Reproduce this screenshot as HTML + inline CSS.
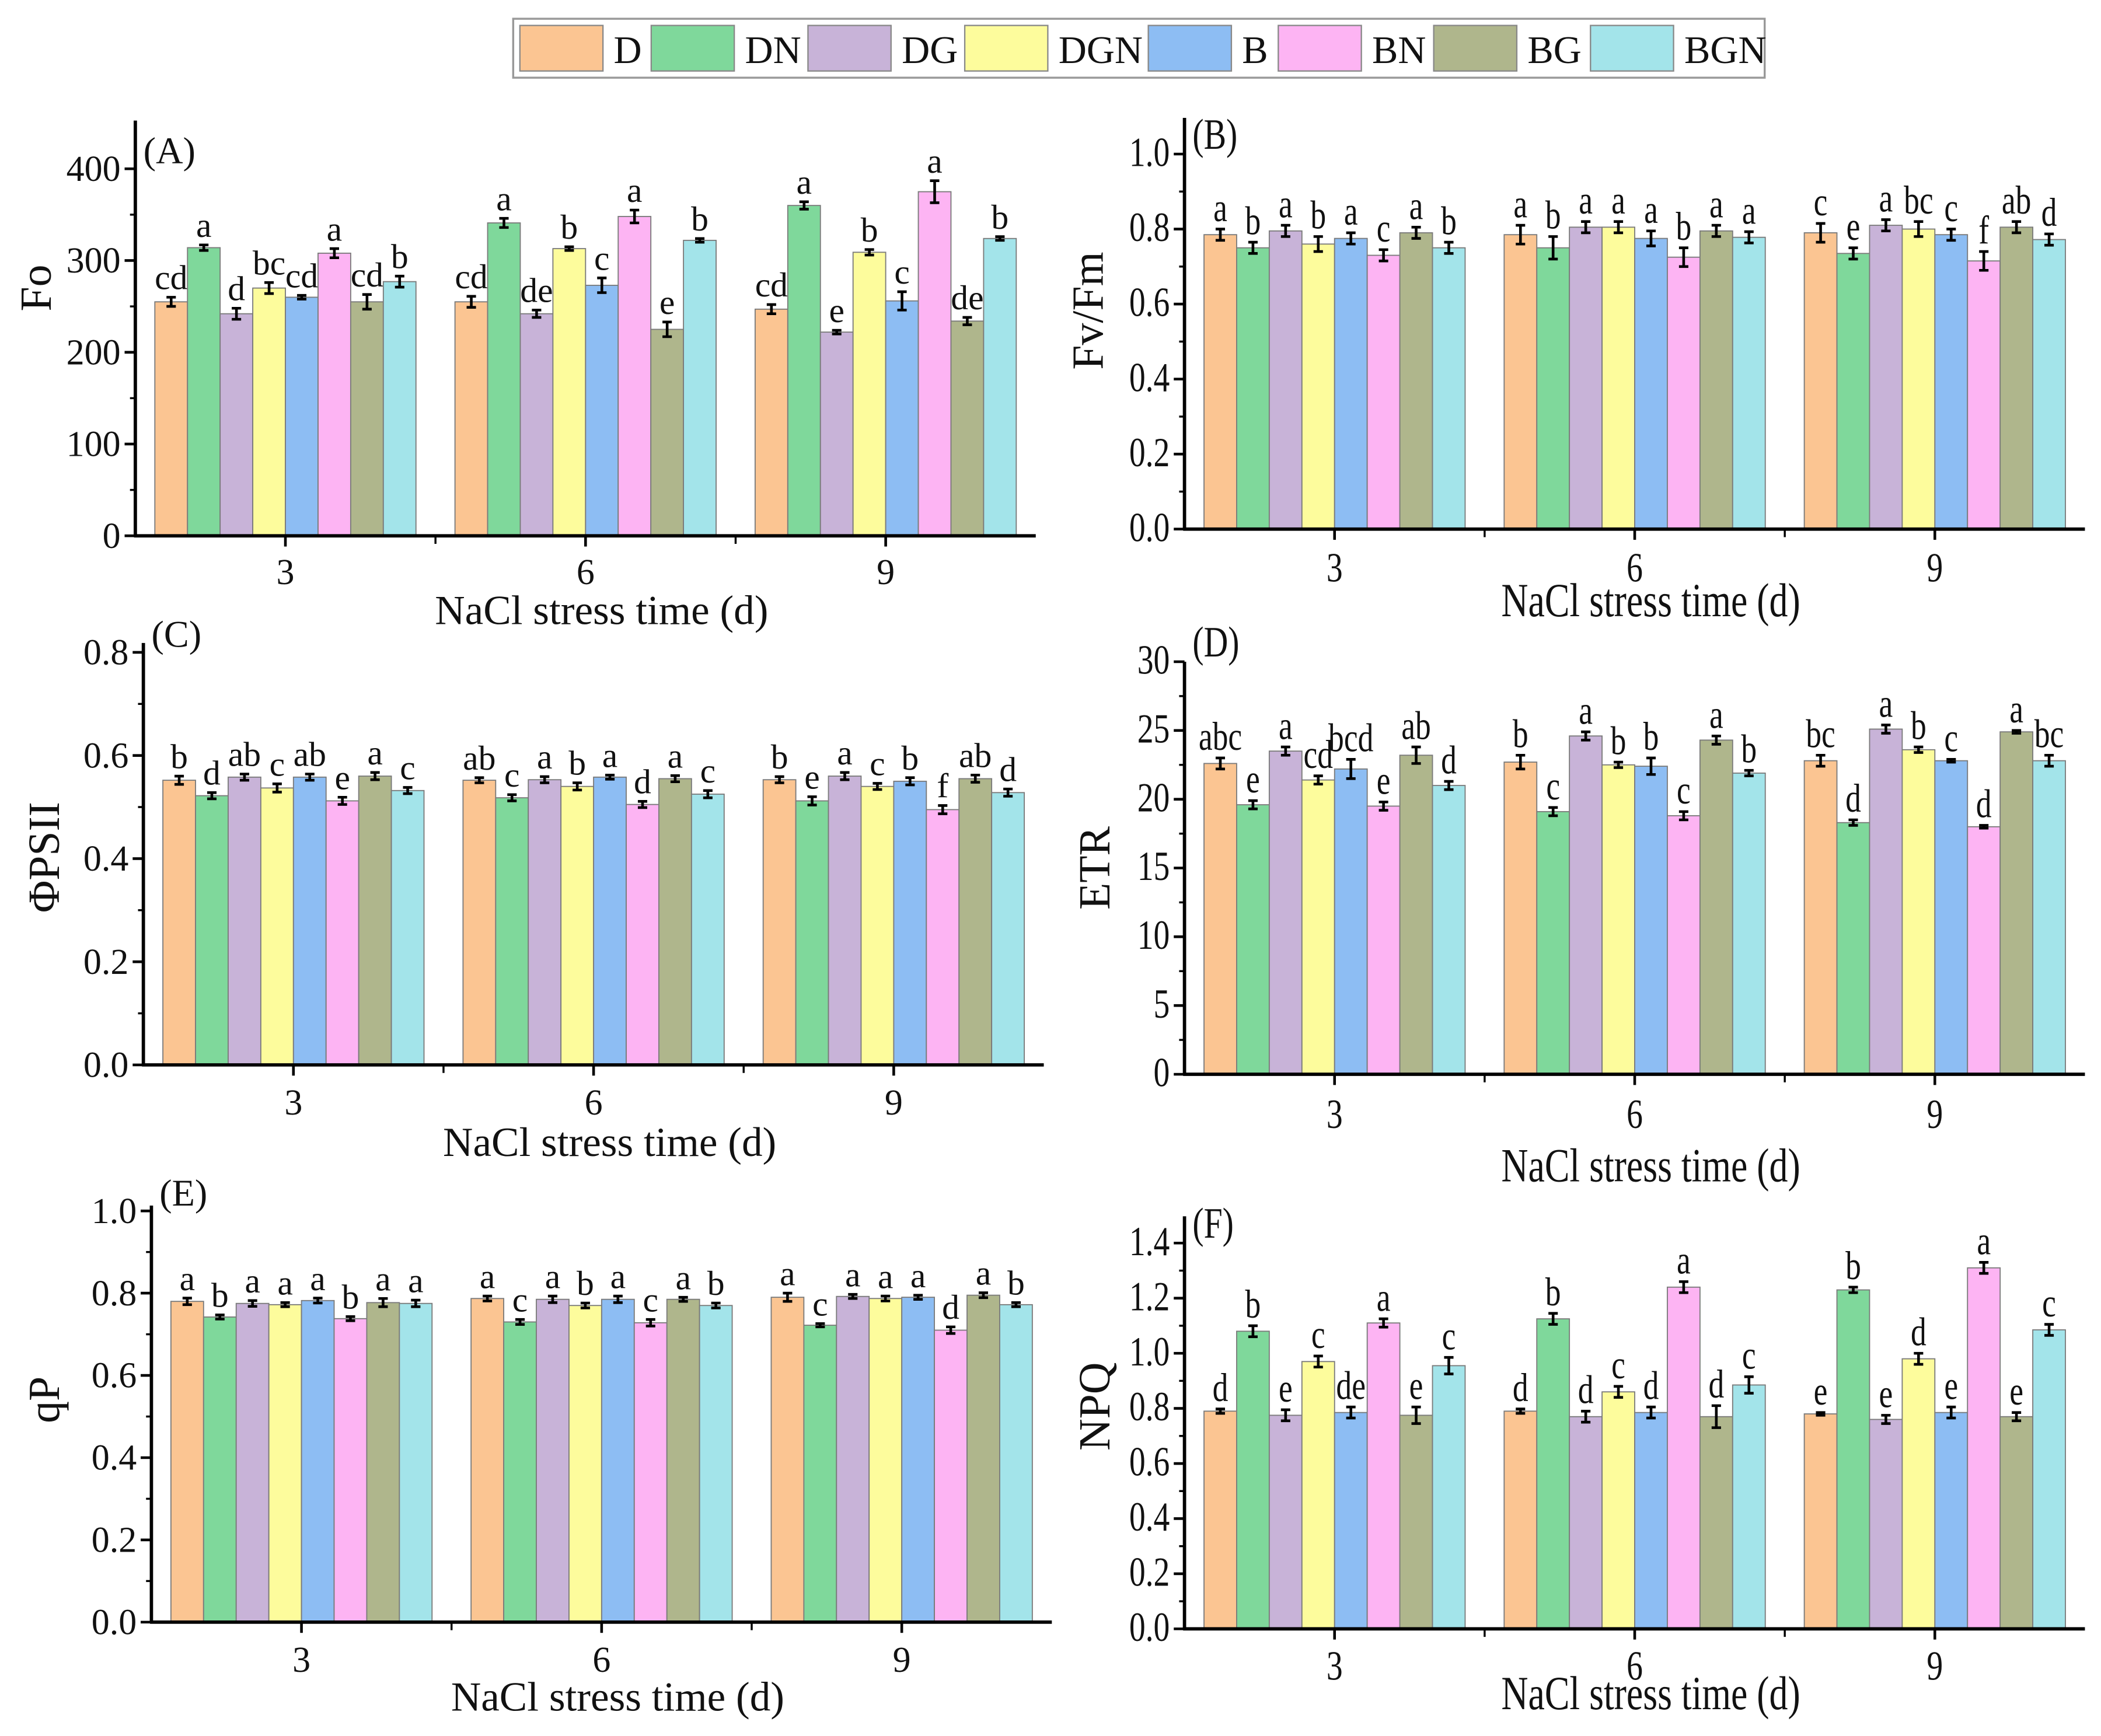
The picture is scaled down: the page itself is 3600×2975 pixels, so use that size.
<!DOCTYPE html>
<html><head><meta charset="utf-8">
<style>html,body{margin:0;padding:0;background:#fff}svg{display:block}svg text{font-family:"Liberation Serif","DejaVu Serif",serif}</style>
</head><body>
<svg id="fig" width="3600" height="2975" viewBox="0 0 1568 1296" preserveAspectRatio="none" xmlns="http://www.w3.org/2000/svg">
<g id="legend"></g>
<g id="panels"></g>
</svg>
<script>
const series = ["D","DN","DG","DGN","B","BN","BG","BGN"];
const colors = ["#fbc592","#7fd89b","#c8b3d8","#fdfc9c","#8dbdf3","#fdb4f3","#afb68c","#a3e4ea"];
const groups = ["3","6","9"];

const valuesA = [[255,314,242,270,260,308,255,277],[255,341,242,313,273,348,225,322],[247,360,222,309,256,375,234,324]];
const errA = [[5,3,6,6,2,5,8,6],[6,5,4,2,8,7,8,2],[5,4,2,3,10,12,4,2]];
const lettersA = [["cd","a","d","bc","cd","a","cd","b"],["cd","a","de","b","c","a","e","b"],["cd","a","e","b","c","a","de","b"]];
const ticksA = [0,100,200,300,400];

const valuesB = [[.785,.75,.795,.76,.775,.73,.79,.75],[.785,.75,.805,.805,.775,.725,.795,.778],[.79,.735,.81,.80,.785,.715,.805,.772]];
const errB = [[.015,.015,.015,.02,.015,.015,.015,.015],[.025,.03,.015,.015,.02,.025,.015,.015],[.025,.015,.015,.02,.015,.025,.015,.015]];
const lettersB = [["a","b","a","b","a","c","a","b"],["a","b","a","a","a","b","a","a"],["c","e","a","bc","c","f","ab","d"]];
const ticksB = [0,0.2,0.4,0.6,0.8,1.0];

const valuesC = [[.552,.522,.558,.537,.558,.512,.56,.532],[.552,.518,.553,.54,.558,.505,.555,.525],[.553,.512,.56,.54,.55,.495,.555,.528]];
const errC = [[.008,.006,.006,.008,.006,.007,.007,.006],[.005,.006,.006,.007,.004,.006,.006,.007],[.006,.008,.007,.006,.007,.008,.007,.007]];
const lettersC = [["b","d","ab","c","ab","e","a","c"],["ab","c","a","b","a","d","a","c"],["b","e","a","c","b","f","ab","d"]];
const ticksC = [0,0.2,0.4,0.6,0.8];

const valuesD = [[22.6,19.6,23.5,21.4,22.2,19.5,23.2,21.0],[22.7,19.1,24.6,22.5,22.4,18.8,24.3,21.9],[22.8,18.3,25.1,23.6,22.8,18.0,24.9,22.8]];
const errD = [[.4,.3,.3,.3,.7,.3,.6,.3],[.5,.3,.3,.2,.6,.3,.3,.2],[.4,.2,.3,.2,.1,.1,.1,.4]];
const lettersD = [["abc","e","a","cd","bcd","e","ab","d"],["b","c","a","b","b","c","a","b"],["bc","d","a","b","c","d","a","bc"]];
const ticksD = [0,5,10,15,20,25,30];

const valuesE = [[.78,.742,.775,.772,.782,.738,.777,.775],[.787,.73,.785,.77,.785,.728,.785,.77],[.79,.722,.792,.787,.79,.71,.795,.772]];
const errE = [[.008,.005,.007,.005,.006,.005,.01,.008],[.006,.006,.008,.006,.008,.008,.005,.006],[.01,.004,.005,.006,.005,.008,.006,.005]];
const lettersE = [["a","b","a","a","a","b","a","a"],["a","c","a","b","a","c","a","b"],["a","c","a","a","a","d","a","b"]];
const ticksE = [0,0.2,0.4,0.6,0.8,1.0];

const valuesF = [[.79,1.08,.775,.97,.785,1.11,.775,.955],[.79,1.125,.77,.86,.785,1.24,.77,.885],[.78,1.23,.76,.98,.785,1.31,.77,1.085]];
const errF = [[.008,.02,.02,.02,.02,.015,.03,.03],[.008,.02,.02,.02,.02,.02,.04,.03],[.005,.01,.015,.02,.02,.02,.015,.02]];
const lettersF = [["d","b","e","c","de","a","e","c"],["d","b","d","c","d","a","d","c"],["e","b","e","d","e","a","e","c"]];
const ticksF = [0,0.2,0.4,0.6,0.8,1.0,1.2,1.4];

const NS = "http://www.w3.org/2000/svg";
function mk(parent, tag, attrs){const e=document.createElementNS(NS,tag);for(const k in attrs)e.setAttribute(k,attrs[k]);parent.appendChild(e);return e;}
function txt(parent,x,y,s,size,anchor,sx,rot){
  const g=mk(parent,"g",{transform:`translate(${x},${y})`+(rot?` rotate(${rot})`:"")+` scale(${sx},1)`});
  const t=mk(g,"text",{x:0,y:0,"font-size":size,"text-anchor":anchor,fill:"#111"});
  t.textContent=s;return t;
}

// legend
const lg=document.getElementById("legend");
mk(lg,"rect",{x:383,y:14,width:934,height:44,fill:"#fff",stroke:"#999","stroke-width":1.5});
const legX=[388,486,603,720,857,954,1070,1187];
series.forEach((s,i)=>{
  const g=mk(lg,"g",{});
  
  
  mk(g,"rect",{x:legX[i],y:19,width:62,height:34,fill:colors[i],stroke:"#888","stroke-width":1});
  const t=mk(g,"text",{x:legX[i]+70,y:47,"font-size":29,fill:"#111"});t.textContent=s;
});

const panels=[
 {id:"a",label:"(A)",yl:"Fo",vals:valuesA,errs:errA,lets:lettersA,ticks:ticksA,fmt:v=>String(v),x0:101,x1:773,y0:400,ymax:400,ytop:126,axTop:90,sx:1,fs:1,ylx:38,yly:215,xlY:466,tkY:436},
 {id:"b",label:"(B)",yl:"Fv/Fm",vals:valuesB,errs:errB,lets:lettersB,ticks:ticksB,fmt:v=>v.toFixed(1),x0:884,x1:1556,y0:395,ymax:1.0,ytop:115,axTop:88,sx:0.78,fs:1.15,ylx:823,yly:232,xlY:460,tkY:434},
 {id:"c",label:"(C)",yl:"ΦPSII",vals:valuesC,errs:errC,lets:lettersC,ticks:ticksC,fmt:v=>v.toFixed(1),x0:107,x1:779,y0:795,ymax:0.8,ytop:487,axTop:480,sx:1,fs:1,ylx:44,yly:640,xlY:863,tkY:832},
 {id:"d",label:"(D)",yl:"ETR",vals:valuesD,errs:errD,lets:lettersD,ticks:ticksD,fmt:v=>String(v),x0:884,x1:1556,y0:802,ymax:30,ytop:494,axTop:494,sx:0.78,fs:1.15,ylx:828,yly:648,xlY:882,tkY:842},
 {id:"e",label:"(E)",yl:"qP",vals:valuesE,errs:errE,lets:lettersE,ticks:ticksE,fmt:v=>v.toFixed(1),x0:113,x1:785,y0:1211,ymax:1.0,ytop:904,axTop:900,sx:1,fs:1,ylx:44,yly:1045,xlY:1277,tkY:1248},
 {id:"f",label:"(F)",yl:"NPQ",vals:valuesF,errs:errF,lets:lettersF,ticks:ticksF,fmt:v=>v.toFixed(1),x0:884,x1:1556,y0:1216,ymax:1.4,ytop:928,axTop:908,sx:0.78,fs:1.15,ylx:828,yly:1050,xlY:1276,tkY:1254}
];

const root=document.getElementById("panels");
panels.forEach(p=>{
  const g=mk(root,"g",{});
  
  
  const W=p.x1-p.x0, gw=W/3, barW=gw*0.87/8;
  const yS=v=>p.y0-(v/p.ymax)*(p.y0-p.ytop);
  const gx=i=>p.x0+gw*(i+0.5);
  p.vals.forEach((row,gi)=>{
    row.forEach((v,si)=>{
      const bx=gx(gi)-barW*4+si*barW;
      const r=mk(g,"rect",{x:bx,y:yS(v),width:barW,height:p.y0-yS(v),fill:colors[si],stroke:"#7a7a7a","stroke-width":0.8});
      
      
      const cx=bx+barW/2,e=p.errs[gi][si],yt=yS(v+e),yb=yS(v-e);
      mk(g,"line",{x1:cx,x2:cx,y1:yt,y2:yb,stroke:"#000","stroke-width":2});
      mk(g,"line",{x1:cx-3.5,x2:cx+3.5,y1:yt,y2:yt,stroke:"#000","stroke-width":2});
      mk(g,"line",{x1:cx-3.5,x2:cx+3.5,y1:yb,y2:yb,stroke:"#000","stroke-width":2});
      const lt=txt(g,cx,yt-6,p.lets[gi][si],26*p.fs,"middle",p.sx);
      
      
    });
  });
  mk(g,"line",{x1:p.x0,x2:p.x0,y1:p.axTop,y2:p.y0+1,stroke:"#000","stroke-width":2.5});
  mk(g,"line",{x1:p.x0-1,x2:p.x1,y1:p.y0,y2:p.y0,stroke:"#000","stroke-width":2.5});
  const step=(p.ytop-p.y0)/(p.ticks.length-1);
  p.ticks.forEach((t,i)=>{
    const y=yS(t);
    mk(g,"line",{x1:p.x0-8,x2:p.x0,y1:y,y2:y,stroke:"#000","stroke-width":2});
    if(i<p.ticks.length-1){const ym=y+step/2;mk(g,"line",{x1:p.x0-4,x2:p.x0,y1:ym,y2:ym,stroke:"#000","stroke-width":1.5});}
    const tl=txt(g,p.x0-11,y+9,p.fmt(t),27*p.fs,"end",p.sx);
    
    
  });
  groups.forEach((s,i)=>{
    mk(g,"line",{x1:gx(i),x2:gx(i),y1:p.y0,y2:p.y0+8,stroke:"#000","stroke-width":2});
    if(i>0) mk(g,"line",{x1:p.x0+gw*i,x2:p.x0+gw*i,y1:p.y0,y2:p.y0+6,stroke:"#000","stroke-width":1.5});
    const xl=txt(g,gx(i),p.tkY,s,27*p.fs,"middle",p.sx);
    
    
  });
  const xt=txt(g,(p.x0+p.x1)/2+12,p.xlY,"NaCl stress time (d)",31*p.fs,"middle",p.sx);
  
  
  const yt=txt(g,p.ylx,p.yly,p.yl,33,"middle",1,-90);
  
  
  const pl=txt(g,p.x0+6,p.ytop-4,p.label,28*p.fs,"start",p.sx);
  
  
});
</script>
</body></html>
